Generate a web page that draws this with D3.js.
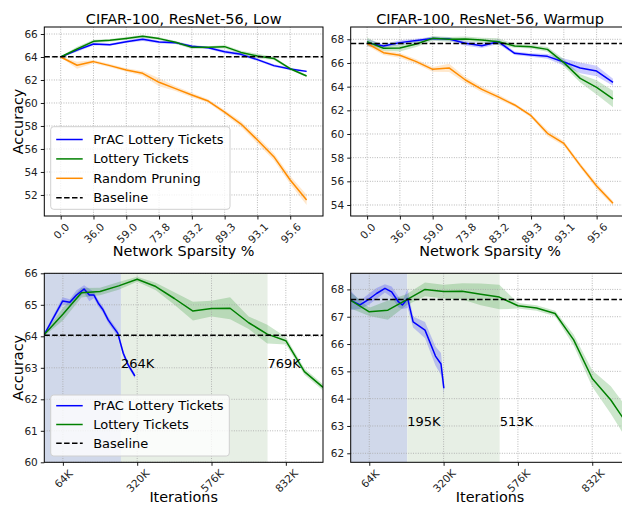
<!DOCTYPE html>
<html>
<head>
<meta charset="utf-8">
<script src="https://cdn.jsdelivr.net/npm/d3@7"></script>
<style>
  body { margin: 0; background: #fff; }
  svg { display: block; font-family: "DejaVu Sans", sans-serif; }
</style>
</head>
<body>
<div id="chart"></div>
<script>
// --- data ---
const sparsity = [0, 20, 36, 48.8, 59.04, 67.23, 73.79, 79.03, 83.22, 86.58, 89.26, 91.41, 93.13, 94.5, 95.6, 96.48];

// top-left: CIFAR-100, ResNet-56, Low
const lowPrac      = [64.0, 64.6, 65.13, 65.07, 65.33, 65.54, 65.3, 65.25, 64.93, 64.8, 64.46, 64.23, 63.77, 63.25, 62.96, 62.75];
const lowPracStd   = [0.05, 0.15, 0.12, 0.1, 0.12, 0.15, 0.12, 0.12, 0.12, 0.1, 0.15, 0.15, 0.12, 0.12, 0.1, 0.08];
const lowLottery   = [64.0, 64.7, 65.36, 65.45, 65.62, 65.8, 65.6, 65.28, 64.84, 64.84, 64.9, 64.4, 64.09, 63.88, 62.98, 62.35];
const lowLotteryStd= [0.05, 0.2, 0.15, 0.12, 0.12, 0.12, 0.12, 0.12, 0.15, 0.1, 0.15, 0.15, 0.2, 0.15, 0.1, 0.1];
const lowRandom    = [64.0, 63.28, 63.6, 63.25, 62.87, 62.58, 61.8, 61.25, 60.7, 60.17, 59.2, 58.17, 56.78, 55.33, 53.3, 51.57];
const lowRandomStd = [0.05, 0.3, 0.15, 0.15, 0.15, 0.2, 0.35, 0.2, 0.2, 0.15, 0.2, 0.25, 0.3, 0.3, 0.35, 0.45];
const lowBaseline = 64.03;

// top-right: CIFAR-100, ResNet-56, Warmup
const warmPrac      = [67.72, 67.44, 67.72, 67.89, 68.06, 68.03, 67.66, 67.46, 67.8, 66.82, 66.68, 66.56, 66.08, 65.58, 65.32, 64.37];
const warmPracStd   = [0.3, 0.15, 0.2, 0.15, 0.15, 0.15, 0.2, 0.2, 0.2, 0.15, 0.15, 0.2, 0.3, 0.45, 0.45, 0.3];
const warmLottery   = [67.8, 67.24, 67.27, 67.6, 68.08, 68.0, 68.03, 67.94, 67.8, 67.44, 67.38, 67.15, 66.03, 64.7, 63.94, 62.96];
const warmLotteryStd= [0.35, 0.2, 0.3, 0.25, 0.2, 0.2, 0.2, 0.2, 0.3, 0.15, 0.15, 0.2, 0.3, 0.35, 0.6, 0.7];
const warmRandom    = [67.66, 66.87, 66.65, 66.11, 65.46, 65.58, 64.56, 63.77, 63.13, 62.45, 61.55, 60.06, 59.21, 57.35, 55.6, 54.14];
const warmRandomStd = [0.2, 0.2, 0.2, 0.2, 0.2, 0.35, 0.25, 0.25, 0.2, 0.15, 0.15, 0.25, 0.2, 0.2, 0.25, 0.2];
const warmBaseline = 67.65;

// bottom-left: accuracy vs training iterations (K), Low
const lowPracIters   = [0, 63, 88, 111, 137, 155, 171, 186, 201, 220, 237, 253, 272, 289, 312];
const lowPracIterAcc = [64.06, 65.12, 65.08, 65.31, 65.5, 65.31, 65.31, 65.05, 64.86, 64.52, 64.3, 64.1, 63.46, 63.09, 62.74];
const lowPracIterStd = [0.05, 0.12, 0.1, 0.15, 0.12, 0.2, 0.1, 0.1, 0.1, 0.1, 0.1, 0.1, 0.1, 0.08, 0.08];
const lotteryIters   = [0, 64, 128, 192, 256, 320, 384, 448, 512, 576, 640, 704, 768, 832, 896, 960];
const lowLotIterAcc  = [64.06, 64.7, 65.38, 65.42, 65.6, 65.81, 65.58, 65.2, 64.8, 64.88, 64.89, 64.43, 64.07, 63.86, 62.88, 62.38];
const lowLotIterStd  = [0.05, 0.2, 0.15, 0.12, 0.12, 0.08, 0.12, 0.2, 0.3, 0.25, 0.35, 0.2, 0.3, 0.12, 0.1, 0.1];
const lowSpans = [264, 769];

// bottom-right: accuracy vs training iterations (K), Warmup
const warmPracIters   = [0, 32, 61, 89, 118, 141, 164, 178, 196, 215, 256, 292, 311, 321];
const warmPracIterAcc = [67.6, 67.43, 67.63, 67.85, 68.04, 67.91, 67.55, 67.43, 67.67, 66.81, 66.51, 65.56, 65.27, 64.38];
const warmPracIterStd = [0.35, 0.15, 0.2, 0.2, 0.15, 0.2, 0.2, 0.15, 0.35, 0.2, 0.3, 0.35, 0.4, 0.25];
const warmLotIterAcc  = [67.6, 67.18, 67.24, 67.62, 68.0, 67.92, 67.93, 67.82, 67.72, 67.4, 67.32, 67.12, 66.15, 64.74, 63.95, 62.95];
const warmLotIterStd  = [0.3, 0.15, 0.35, 0.2, 0.25, 0.25, 0.3, 0.4, 0.45, 0.1, 0.1, 0.1, 0.2, 0.3, 0.5, 0.6];
const warmSpans = [195, 513];

const iterTicks = [64, 320, 576, 832];

// --- colours ---
const BLUE = "#0000ff", GREEN = "#008000", ORANGE = "#ff8c00";

// --- svg ---
const svg = d3.select("#chart").append("svg")
  .attr("width", 622).attr("height", 506);

const defs = svg.append("defs");
let clipId = 0;

function drawPanel(p) {
  const g = svg.append("g");
  const [x0, x1] = p.xRange, [y0, y1] = p.yRange;
  const x = p.x, y = p.y;

  const cid = "clip" + (clipId++);
  defs.append("clipPath").attr("id", cid)
    .append("rect").attr("x", x0).attr("y", y0).attr("width", x1 - x0).attr("height", y1 - y0);

  const plot = g.append("g").attr("clip-path", `url(#${cid})`);

  // shaded phases
  if (p.spans) {
    plot.append("rect").attr("x", x(0)).attr("y", y0)
      .attr("width", x(p.spans[0]) - x(0)).attr("height", y1 - y0).attr("fill", "#d0d8ea");
    plot.append("rect").attr("x", x(p.spans[0])).attr("y", y0)
      .attr("width", x(p.spans[1]) - x(p.spans[0])).attr("height", y1 - y0).attr("fill", "#e7efe5");
  }

  // bands
  p.series.forEach(s => {
    const pts = s.xs.map((xv, i) => ({x: xv, v: s.v[i], sd: s.sd[i]}));
    plot.append("path").datum(pts)
      .attr("fill", s.color).attr("fill-opacity", 0.2)
      .attr("d", d3.area().x(d => x(d.x)).y0(d => y(d.v - d.sd)).y1(d => y(d.v + d.sd)));
  });

  // grid
  const gx = p.xTicks.map(t => x(t));
  plot.selectAll(".gx").data(gx).enter().append("line")
    .attr("x1", d => d).attr("x2", d => d).attr("y1", y0).attr("y2", y1)
    .attr("stroke", "#a8a8a8").attr("stroke-width", 0.9).attr("stroke-dasharray", "0.9,1.5");
  plot.selectAll(".gy").data(p.yTicks).enter().append("line")
    .attr("x1", x0).attr("x2", x1).attr("y1", d => y(d)).attr("y2", d => y(d))
    .attr("stroke", "#a8a8a8").attr("stroke-width", 0.9).attr("stroke-dasharray", "0.9,1.5");

  // lines
  p.series.forEach(s => {
    plot.append("path").datum(s.xs.map((xv, i) => [xv, s.v[i]]))
      .attr("fill", "none").attr("stroke", s.color).attr("stroke-width", 1.5)
      .attr("stroke-linejoin", "round")
      .attr("d", d3.line().x(d => x(d[0])).y(d => y(d[1])));
  });

  // baseline
  plot.append("line").attr("x1", x0).attr("x2", x1)
    .attr("y1", y(p.baseline)).attr("y2", y(p.baseline))
    .attr("stroke", "#000").attr("stroke-width", 1.5).attr("stroke-dasharray", "5.5,2.4");

  // span labels
  if (p.spans) {
    p.spans.forEach(k => {
      plot.append("text").attr("x", x(k)).attr("y", y(63))
        .attr("font-size", 13).attr("fill", "#000").text(k + "K");
    });
  }

  // axes
  const ax = g.append("g").attr("transform", `translate(0,${y1})`)
    .call(d3.axisBottom(x).tickValues(p.xTicks).tickFormat(p.xFormat).tickSize(3.5).tickPadding(0));
  ax.select(".domain").remove();
  ax.selectAll(".tick line").attr("stroke", "#000").attr("stroke-width", 0.9);
  ax.selectAll(".tick text").each(function () {
    const w = this.getComputedTextLength();
    const s = (w + 10) / Math.SQRT2;
    d3.select(this).attr("y", 0).attr("dy", null)
      .attr("font-size", 10.5).attr("fill", "#222")
      .attr("text-anchor", "middle").attr("dominant-baseline", "central")
      .attr("transform", `translate(0,${6.5 + s / 2}) rotate(-45)`);
  });
  ax.attr("font-family", null);

  const ay = g.append("g").attr("transform", `translate(${x0},0)`)
    .call(d3.axisLeft(y).tickValues(p.yTicks).tickFormat(d3.format("d")).tickSize(3.5).tickPadding(3));
  ay.select(".domain").remove();
  ay.selectAll(".tick line").attr("stroke", "#000").attr("stroke-width", 0.9);
  ay.selectAll(".tick text").attr("font-size", 10.5).attr("fill", "#222");
  ay.attr("font-family", null);

  // frame
  g.append("rect").attr("x", x0).attr("y", y0).attr("width", x1 - x0).attr("height", y1 - y0)
    .attr("fill", "none").attr("stroke", "#000").attr("stroke-width", 1);

  // labels
  const cx = (x0 + x1) / 2;
  if (p.title) {
    g.append("text").attr("x", cx).attr("y", y0 - 3).attr("text-anchor", "middle")
      .attr("font-size", 14.5).text(p.title);
  }
  g.append("text").attr("x", cx).attr("y", y1 + 39.5).attr("text-anchor", "middle")
    .attr("font-size", 14.4).text(p.xLabel);
  if (p.yLabel) {
    g.append("text").attr("transform", `translate(22.5,${(y0 + y1) / 2}) rotate(-90)`)
      .attr("text-anchor", "middle").attr("font-size", 14.4).text(p.yLabel);
  }

  // legend
  if (p.legend) {
    const L = p.legend;
    const lg = g.append("g");
    lg.append("rect").attr("x", L.x).attr("y", L.y).attr("width", L.w).attr("height", L.h)
      .attr("rx", 3).attr("fill", "#fff").attr("fill-opacity", 0.8)
      .attr("stroke", "#d0d0d0").attr("stroke-width", 1);
    L.items.forEach((it, i) => {
      const ry = L.y + L.first + L.step * i;
      lg.append("line").attr("x1", L.x + 5.5).attr("x2", L.x + 32).attr("y1", ry).attr("y2", ry)
        .attr("stroke", it.color).attr("stroke-width", 1.5)
        .attr("stroke-dasharray", it.dash ? "5.5,2.4" : null);
      lg.append("text").attr("x", L.x + 42.5).attr("y", ry).attr("dominant-baseline", "central")
        .attr("font-size", 13).text(it.label);
    });
  }
}

// --- layout ---
const colL = [44.3, 323], colR = [350.7, 629.4];
const rowT = [27, 216], rowB = [273.3, 462.3];

const sparseTicks = sparsity.filter((d, i) => i % 2 === 0);
const sparseFmt = d => d.toFixed(1);
const pointX = r => d3.scalePoint().domain(sparsity).range(r).padding(1);
const iterX = r => d3.scaleLinear().domain([0, 960]).range(r);
const kFmt = d => d + "K";

const legend4 = [
  {label: "PrAC Lottery Tickets", color: BLUE},
  {label: "Lottery Tickets", color: GREEN},
  {label: "Random Pruning", color: ORANGE},
  {label: "Baseline", color: "#000", dash: true}
];

drawPanel({
  xRange: colL, yRange: rowT,
  x: pointX(colL), y: d3.scaleLinear().domain([50.17, 66.61]).range([rowT[1], rowT[0]]),
  xTicks: sparseTicks, xFormat: sparseFmt, yTicks: d3.range(52, 67, 2),
  series: [
    {xs: sparsity, v: lowPrac, sd: lowPracStd, color: BLUE},
    {xs: sparsity, v: lowLottery, sd: lowLotteryStd, color: GREEN},
    {xs: sparsity, v: lowRandom, sd: lowRandomStd, color: ORANGE}
  ],
  baseline: lowBaseline,
  title: "CIFAR-100, ResNet-56, Low", xLabel: "Network Sparsity %", yLabel: "Accuracy",
  legend: {x: 50.7, y: 126.7, w: 179.3, h: 82.6, first: 12.8, step: 19.4, items: legend4}
});

drawPanel({
  xRange: colR, yRange: rowT,
  x: pointX(colR), y: d3.scaleLinear().domain([53.07, 69.04]).range([rowT[1], rowT[0]]),
  xTicks: sparseTicks, xFormat: sparseFmt, yTicks: d3.range(54, 69, 2),
  series: [
    {xs: sparsity, v: warmPrac, sd: warmPracStd, color: BLUE},
    {xs: sparsity, v: warmLottery, sd: warmLotteryStd, color: GREEN},
    {xs: sparsity, v: warmRandom, sd: warmRandomStd, color: ORANGE}
  ],
  baseline: warmBaseline,
  title: "CIFAR-100, ResNet-56, Warmup", xLabel: "Network Sparsity %"
});

drawPanel({
  xRange: colL, yRange: rowB,
  x: iterX(colL), y: d3.scaleLinear().domain([60, 66]).range([rowB[1], rowB[0]]),
  xTicks: iterTicks, xFormat: kFmt, yTicks: d3.range(60, 67, 1),
  series: [
    {xs: lowPracIters, v: lowPracIterAcc, sd: lowPracIterStd, color: BLUE},
    {xs: lotteryIters, v: lowLotIterAcc, sd: lowLotIterStd, color: GREEN}
  ],
  spans: lowSpans,
  baseline: lowBaseline,
  xLabel: "Iterations", yLabel: "Accuracy",
  legend: {x: 50.7, y: 395, w: 178.6, h: 61, first: 10.7, step: 18.8,
           items: [legend4[0], legend4[1], legend4[3]]}
});

drawPanel({
  xRange: colR, yRange: rowB,
  x: iterX(colR), y: d3.scaleLinear().domain([61.67, 68.59]).range([rowB[1], rowB[0]]),
  xTicks: iterTicks, xFormat: kFmt, yTicks: d3.range(62, 69, 1),
  series: [
    {xs: warmPracIters, v: warmPracIterAcc, sd: warmPracIterStd, color: BLUE},
    {xs: lotteryIters, v: warmLotIterAcc, sd: warmLotIterStd, color: GREEN}
  ],
  spans: warmSpans,
  baseline: 67.63,
  xLabel: "Iterations"
});
</script>
</body>
</html>
